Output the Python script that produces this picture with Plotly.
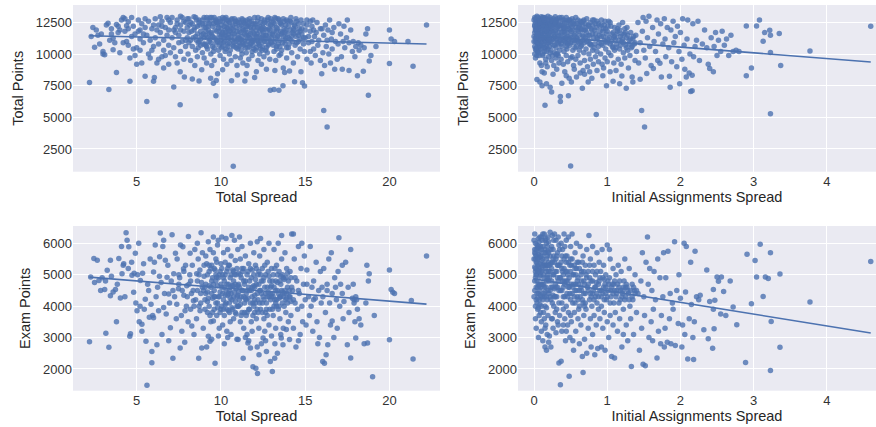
import plotly.graph_objects as go

# ---------------- data ----------------
# Panel 1: Total Spread (x) vs Total Points (y)
spread_total_pts = [
    (2.2,7750),(2.4,12100),(2.5,10550),(2.6,11900),(2.7,11500),(2.9,11600),(2.8,10800),(3.0,10000),(3.0,10200),(3.1,9950),(3.2,12300),(2.3,11400),
    (3.35,7200),(3.4,11100),(3.5,11600),(3.5,12000),(3.6,11250),(3.7,10900),(3.8,8550),(3.9,11700),(3.9,12200),(4.0,10100),(4.0,11900),(3.3,12450),(3.6,10350),(3.8,12350),
    (4.1,12700),(4.2,12900),(4.3,12800),(4.3,11800),(4.4,11000),(4.5,12550),(4.5,10700),(4.6,7850),(4.6,9700),(4.7,11400),(4.8,10400),(4.8,12200),(4.9,9900),(4.9,11600),(4.2,10900),(4.4,12250),(4.7,12900),(5.0,10500),
    (5.0,9200),(5.1,11800),(5.1,12700),(5.2,10300),(5.2,11200),(5.3,9300),(5.3,12400),(5.4,10900),(5.5,12100),(5.5,8250),(5.6,6250),(5.6,11500),(5.7,10000),(5.7,12600),(5.8,9700),(5.8,11100),(5.9,12000),(6.0,7850),(6.0,10600),(6.05,8150),(5.4,11600),(5.9,10300),
    (6.1,12800),(6.1,11300),(6.2,9300),(6.3,12300),(6.3,10800),(6.4,12950),(6.4,11700),(6.5,9800),(6.5,12600),(6.6,11100),(6.6,10300),(6.7,12100),(6.7,9900),(6.8,11500),(6.8,12900),(6.9,10700),(6.9,11900),(7.0,10100),(7.0,12500),(6.2,11900),(6.6,8900),(6.3,9600),(6.9,9200),
    (7.1,11300),(7.1,12900),(7.2,7400),(7.2,10500),(7.3,12100),(7.3,11700),(7.4,9300),(7.4,12700),(7.5,10900),(7.5,11500),(7.58,6000),(7.58,8600),(7.6,12300),(7.6,10200),(7.7,11000),(7.7,12900),(7.8,9600),(7.83,8200),(7.8,11800),(7.9,12500),(7.9,10600),(8.0,11300),(8.0,12100),(7.3,9800),(7.6,13000),
    (8.05,10000),(8.1,11700),(8.1,12800),(8.2,9500),(8.2,11100),(8.3,8030),(8.3,12400),(8.3,10600),(8.4,11900),(8.4,12950),(8.5,10300),(8.5,11400),(8.6,12200),(8.6,9800),(8.7,7870),(8.7,11000),(8.7,12700),(8.8,10700),(8.8,11800),(8.86,8760),(8.9,12400),(8.9,10100),(9.0,11300),(9.0,12900),(9.0,9700),(8.45,9100),(8.15,12300),(8.55,12700),(8.95,11600),(8.65,10900),
    (9.05,10800),(9.1,12100),(9.1,11500),(9.15,9300),(9.2,12700),(9.2,10400),(9.25,11900),(9.3,11000),(9.3,12400),(9.39,8090),(9.4,10000),(9.4,11700),(9.45,12900),(9.5,10600),(9.55,7690),(9.5,12200),(9.6,11300),(9.6,9500),(9.65,12600),(9.7,6700),(9.72,7920),(9.7,10900),(9.75,11800),(9.8,8440),(9.8,12300),(9.85,10300),(9.9,11500),(9.9,12800),(9.95,9900),(10.0,11100),(10.0,12000),(9.35,11200),(9.55,10200),(9.75,12500),(9.15,12900),(9.45,9100),
    (10.05,10500),(10.1,8760),(10.1,11700),(10.1,12600),(10.15,9600),(10.2,11000),(10.2,12200),(10.25,10200),(10.3,11500),(10.3,12900),(10.35,9200),(10.4,10800),(10.4,12000),(10.45,11300),(10.5,12500),(10.53,5230),(10.5,10000),(10.55,11800),(10.6,9500),(10.63,7900),(10.65,11100),(10.7,12300),(10.73,1130),(10.75,10600),(10.8,11600),(10.8,12800),(10.85,9800),(10.9,11000),(10.9,12100),(10.98,8350),(11.0,10400),(11.0,11500),(10.15,10900),(10.35,12700),(10.55,10300),(10.85,12600),(10.95,9100),(10.25,11900),(10.65,12000),(10.45,11600),
    (11.05,12700),(11.1,10900),(11.1,11800),(11.15,9700),(11.2,12300),(11.2,10300),(11.25,11400),(11.3,9300),(11.3,12000),(11.35,10700),(11.42,7870),(11.4,11100),(11.45,12600),(11.5,8440),(11.5,10100),(11.55,11700),(11.6,12200),(11.6,10500),(11.65,9600),(11.7,11300),(11.7,12800),(11.75,10800),(11.8,11900),(11.85,9900),(11.9,12400),(11.9,11000),(11.95,10400),(12.0,8150),(12.0,11600),(12.0,12900),(11.15,11200),(11.35,12500),(11.55,9100),(11.75,12100),(11.85,10200),(11.25,10000),(11.65,11500),(11.45,11900),(11.95,11300),(11.05,10600),
    (12.05,10300),(12.1,8600),(12.1,11900),(12.15,12600),(12.2,10800),(12.2,9500),(12.25,11400),(12.3,12200),(12.3,10000),(12.35,11100),(12.4,12800),(12.4,9200),(12.45,10600),(12.5,11700),(12.5,12400),(12.55,9800),(12.6,11000),(12.6,12000),(12.65,10300),(12.7,11500),(12.7,8800),(12.75,12700),(12.8,10700),(12.85,11200),(12.9,9600),(12.93,7150),(12.95,12300),(13.0,10900),(12.15,11100),(12.45,11900),(12.75,10100),(12.35,10400),(12.85,12000),(12.55,11300),
    (13.05,5280),(13.05,11600),(13.1,12500),(13.15,7200),(13.15,10200),(13.2,8700),(13.2,11000),(13.25,9500),(13.3,12100),(13.3,10600),(13.35,11400),(13.44,7150),(13.4,12800),(13.45,9900),(13.5,11100),(13.55,12400),(13.6,10300),(13.68,7500),(13.65,11700),(13.7,8900),(13.75,12000),(13.78,8540),(13.8,10800),(13.85,11300),(13.9,9700),(13.95,12600),(14.0,10500),(13.25,12800),(13.55,10000),(13.85,11900),
    (14.07,8670),(14.1,11200),(14.15,12900),(14.2,10100),(14.25,11700),(14.3,9300),(14.37,7820),(14.35,12300),(14.4,10700),(14.45,11400),(14.5,12600),(14.55,9800),(14.6,11000),(14.65,12000),(14.7,10400),(14.75,8600),(14.84,7740),(14.8,11600),(14.9,12400),(14.96,7470),(14.95,10200),(15.0,11300),(14.3,12000),(14.7,11800),
    (15.1,12700),(15.1,9600),(15.2,10900),(15.3,11800),(15.35,9300),(15.4,12200),(15.5,10400),(15.55,11400),(15.6,9900),(15.7,12500),(15.75,10700),(15.8,11100),(15.9,9500),(15.98,8440),(15.9,12000),(15.3,10200),(15.65,11700),(15.45,12700),
    (16.05,10100),(16.1,5550),(16.1,11500),(16.15,9100),(16.2,12300),(16.25,10600),(16.3,4230),(16.35,11900),(16.4,10000),(16.45,12700),(16.5,9300),(16.55,11200),(16.6,10400),(16.7,12100),(16.75,8800),(16.8,11000),(16.9,9600),(17.0,12400),(16.95,10800),
    (17.1,11600),(17.15,9800),(17.2,8800),(17.3,12200),(17.35,10500),(17.45,11300),(17.5,12700),(17.6,8700),(17.6,10900),(17.7,11900),(17.8,10200),(17.85,11000),(17.95,9800),(18.0,10600),(17.25,11000),
    (18.1,8300),(18.15,10900),(18.2,10300),(18.3,10700),(18.45,8650),(18.5,10500),(18.6,11600),(18.7,12000),(18.75,6750),(18.8,9450),(18.9,9900),
    (19.2,10600),(20.0,9250),(20.0,11900),(20.1,11200),(20.3,11000),(21.1,11000),(21.4,9050),(22.2,12300),
]
# extra points of the crowded core of panel 1
spread_total_core = [
    (7.6,11900),(7.8,12600),(7.9,11100),(8.0,12800),(8.1,10900),(8.2,12500),(8.25,11800),(8.35,11300),(8.45,12100),(8.5,12900),(8.6,11600),(8.65,10500),(8.75,12300),(8.8,11200),(8.9,12700),(8.95,10800),(9.05,12400),(9.1,11800),(9.15,10600),(9.25,12200),(9.3,11600),(9.35,12900),(9.4,10900),(9.5,11400),(9.55,12400),(9.6,10500),(9.65,11900),(9.7,12700),(9.8,11000),(9.85,12100),(9.9,10700),(9.95,12600),(10.0,11400),(10.05,12300),(10.1,10600),(10.15,11300),(10.2,12800),(10.25,11700),(10.3,10400),(10.35,12100),(10.4,11200),(10.45,12600),(10.5,10900),(10.55,12200),(10.6,11400),(10.65,12800),(10.7,10700),(10.75,11900),(10.8,11200),(10.85,12400),(10.9,10500),(10.95,11800),(11.0,12500),(11.05,11300),(11.1,12200),(11.15,10700),(11.2,11700),(11.25,12800),(11.3,10900),(11.35,11900),(11.4,12400),(11.45,10500),(11.5,11500),(11.55,12700),(11.6,11000),(11.65,12300),(11.7,10600),(11.75,11600),(11.8,12600),(11.85,11100),(11.9,10700),(11.95,12100),(12.0,11100),(12.05,12400),(12.1,10500),(12.15,11600),(12.2,12900),(12.25,10900),(12.3,11800),(12.35,12500),(12.4,11300),(12.45,10300),(12.5,12100),(12.55,11000),(12.6,12700),(12.65,11500),(12.7,10500),(12.75,11900),(12.8,12400),(12.85,10800),(12.9,11600),(12.95,12800),(13.0,11300),(13.05,12200),(13.1,10700),(13.15,11800),(13.2,12400),(13.25,11200),(13.3,10400),(13.35,12000),(13.4,11500),(13.45,12700),(13.5,10600),(13.55,11800),(13.6,12300),(13.65,10900),(13.7,11400),(13.75,12600),(13.8,11100),(13.85,12300),(13.9,10500),(13.95,11600),(14.0,12200),(14.05,10800),(14.1,11900),(14.2,12500),(14.25,11000),(14.3,11600),(14.4,12200),(14.5,10900),(14.55,11700),(14.6,12400),(14.7,11200),(14.8,12000),(14.9,10800),(15.0,11900),(15.1,12300),(15.2,11400),(15.3,12600),(15.4,11000),(15.5,11900),(6.5,12200),(6.9,12700),(7.2,11900),(7.4,12400),(5.5,12800),(6.0,12300),(16.0,12000),(16.3,11100),(16.6,11700),(5.2,11900),(4.5,12000),
    (8.55,11100),(8.7,12500),(8.85,11500),(9.0,12100),(9.1,10700),(9.2,11300),(9.35,12600),(9.45,11600),(9.6,12900),(9.7,11200),(9.8,12500),(9.9,11800),(10.05,11600),(10.1,12900),(10.2,11500),(10.3,12400),(10.4,10600),(10.5,11800),(10.6,12700),(10.7,11600),(10.8,10900),(10.9,12600),(11.0,11200),(11.1,12500),(11.2,11100),(11.3,12700),(11.4,11600),(11.5,12200),(11.6,11300),(11.7,12500),(11.8,10900),(11.9,11700),(12.0,12300),(12.1,11400),(12.2,12100),(12.3,10700),(12.4,12000),(12.5,11500),(12.6,12500),(12.7,11200),(12.8,12900),(12.9,11900),(13.0,12600),(13.1,11500),(13.2,12900),(13.3,11800),(13.4,10800),(13.5,12500),(13.6,11600),(13.7,12800),(13.8,11700),(13.9,12700),(14.0,11300),(14.1,12600),(14.2,11400),(14.35,11900),(14.45,12800),(14.6,11500),(14.75,12700),(14.9,11300),(9.95,10900),(11.45,10800),(12.95,11000),
]

# Panel 2: Initial Assignments Spread (x) vs Total Points (y)
init_total_pts = [
    (0.01,12900),(0.02,12500),(0.03,12100),(0.01,11700),(0.02,11300),(0.04,10900),(0.03,10500),(0.05,10200),(0.01,10000),(0.06,12700),(0.07,12300),(0.05,11900),(0.08,11500),(0.06,11100),(0.09,10700),(0.07,10300),(0.04,13000),(0.08,12800),(0.09,12000),(0.1,11600),(0.02,11000),(0.03,12700),(0.05,12400),(0.06,10600),(0.04,11500),(0.08,9300),(0.04,8000),(0.08,7800),(0.11,7500),(0.1,9100),(0.02,9700),(0.07,9900),(0.09,12550),(0.01,12200),(0.03,11850),(0.06,11750),(0.1,10400),(0.0,11400),(0.1,12950),(0.05,10800),
    (0.11,12100),(0.12,12900),(0.12,11400),(0.13,10800),(0.13,12600),(0.14,10200),(0.14,11900),(0.15,5950),(0.15,12300),(0.15,11100),(0.16,9600),(0.16,12800),(0.17,7660),(0.17,10600),(0.17,11700),(0.18,12400),(0.18,9000),(0.18,11200),(0.19,10400),(0.19,12000),(0.2,12700),(0.2,10900),(0.2,11500),(0.11,8600),(0.14,8500),(0.16,9300),(0.12,10000),(0.19,13000),(0.13,11600),(0.17,12200),(0.11,11000),(0.15,10500),(0.18,11800),(0.2,9800),(0.14,12500),
    (0.21,12300),(0.22,7390),(0.22,11000),(0.22,12900),(0.23,10300),(0.23,11800),(0.24,7000),(0.24,12500),(0.24,9500),(0.25,11300),(0.25,12100),(0.26,10700),(0.26,12800),(0.27,9100),(0.27,11600),(0.28,12400),(0.28,10100),(0.29,11100),(0.29,12950),(0.3,9700),(0.3,11900),(0.3,10500),(0.31,12600),(0.31,8800),(0.32,11400),(0.32,10000),(0.33,12200),(0.33,10800),(0.34,9300),(0.34,11700),(0.35,12900),(0.35,10300),(0.26,8400),(0.21,10600),(0.28,11400),(0.33,9900),(0.25,9900),(0.3,12300),(0.23,12700),(0.32,12800),
    (0.36,6650),(0.36,6250),(0.36,11100),(0.37,12300),(0.37,9600),(0.38,7700),(0.38,10600),(0.39,12700),(0.39,11500),(0.4,9200),(0.4,12000),(0.41,10200),(0.41,11800),(0.42,12500),(0.42,8600),(0.43,10900),(0.43,11300),(0.44,12900),(0.44,9900),(0.45,11700),(0.45,10400),(0.46,12200),(0.46,9400),(0.47,6700),(0.47,11000),(0.48,12600),(0.48,8100),(0.49,10700),(0.49,11900),(0.5,1150),(0.5,12300),(0.5,9700),(0.38,12900),(0.42,11000),(0.46,10800),(0.44,8300),
    (0.51,7800),(0.51,11300),(0.52,12800),(0.53,10300),(0.53,11900),(0.54,9100),(0.55,12400),(0.55,10900),(0.56,11600),(0.57,9600),(0.57,12100),(0.58,8200),(0.58,10600),(0.59,11200),(0.6,12700),(0.6,9900),(0.61,11800),(0.62,10300),(0.62,12300),(0.63,9300),(0.64,11000),(0.64,12000),(0.65,10700),(0.66,7310),(0.66,11500),(0.67,12600),(0.67,8700),(0.68,10100),(0.68,11900),(0.69,9500),(0.7,11300),(0.7,12400),(0.55,8800),(0.63,8500),(0.69,8400),(0.52,9800),
    (0.71,10400),(0.72,11700),(0.72,12800),(0.73,9000),(0.74,7800),(0.74,11100),(0.75,12200),(0.75,10000),(0.76,11500),(0.77,9600),(0.77,12500),(0.78,10700),(0.79,8100),(0.79,11900),(0.8,12300),(0.8,10300),(0.81,9200),(0.81,11300),(0.82,12700),(0.83,10800),(0.85,5230),(0.84,11600),(0.84,9800),(0.85,12100),(0.86,10200),(0.86,8700),(0.87,11200),(0.88,12400),(0.88,9400),(0.89,10900),(0.9,11800),(0.76,8600),
    (0.91,10000),(0.92,12300),(0.92,11400),(0.93,9200),(0.94,10700),(0.95,12000),(0.95,8900),(0.96,11100),(0.97,9700),(0.97,12600),(0.98,10400),(0.99,7500),(0.99,11600),(1.0,9400),(1.0,10900),(1.01,12200),(1.02,10100),(1.03,11300),(1.04,8600),(1.04,12500),(1.05,9900),(1.06,11000),(1.07,10600),(1.08,7850),(1.08,11700),(1.09,9300),(1.1,10300),(1.1,12100),(0.94,8300),
    (1.11,11200),(1.12,8700),(1.13,10800),(1.14,11800),(1.15,9600),(1.16,12300),(1.17,7660),(1.17,10400),(1.18,11400),(1.19,9200),(1.2,8280),(1.2,11000),(1.21,12500),(1.22,10100),(1.23,11600),(1.24,9700),(1.25,10700),(1.26,7310),(1.26,11300),(1.27,12100),(1.28,10300),(1.29,8900),(1.3,11100),(1.31,9900),(1.32,11700),(1.33,10500),(1.34,8200),(1.35,7800),(1.35,11200),(1.37,10800),(1.38,9500),(1.39,11500),(1.4,10200),
    (1.42,12500),(1.43,9300),(1.45,8010),(1.45,10900),(1.47,5550),(1.48,11800),(1.49,12900),(1.5,10300),(1.51,4230),(1.52,9700),(1.53,12600),(1.54,8470),(1.55,11300),(1.57,13000),(1.58,10600),(1.6,9100),(1.62,12100),(1.63,8870),(1.64,11000),(1.66,10200),(1.68,12700),(1.69,9500),(1.7,11600),(1.72,9270),(1.73,12400),(1.74,8200),(1.76,10800),(1.78,12800),(1.79,11200),
    (1.8,9800),(1.82,12100),(1.84,10500),(1.85,8250),(1.86,7390),(1.87,11900),(1.88,9400),(1.9,12600),(1.91,10900),(1.93,11400),(1.95,9000),(1.96,12200),(1.98,10200),(1.99,7660),(2.0,11700),(2.02,9600),(2.03,12800),(2.05,10700),(2.06,8800),(2.08,8200),(2.09,11200),(2.1,12700),(2.12,8500),(2.13,10000),(2.14,7040),(2.16,7100),(2.16,8330),(2.17,12400),(2.18,9800),(2.2,10600),(2.22,11100),(2.24,12600),(2.26,9500),
    (2.3,10800),(2.33,11900),(2.36,10500),(2.38,9200),(2.4,8870),(2.42,11300),(2.45,8600),(2.46,10600),(2.48,11700),(2.5,9900),(2.52,11100),(2.55,10200),(2.57,11800),(2.6,10700),(2.63,11200),(2.66,9900),(2.69,11500),(2.72,10200),(2.76,10300),(2.8,10200),
    (2.9,8300),(2.9,12230),(2.97,8900),(3.04,12230),(3.08,12700),(3.13,11020),(3.15,11700),(3.22,11880),(3.23,11500),(3.23,10130),(3.23,5280),(3.35,11640),(3.37,9100),(3.77,10250),(4.6,12200),
]
init_total_core = [
    (0.0,12700),(0.01,12300),(0.02,11900),(0.0,11000),(0.01,10600),(0.03,10300),(0.02,12800),(0.04,12200),(0.03,11200),(0.05,12900),(0.04,11700),(0.06,12000),(0.05,11300),(0.07,12600),(0.06,10900),(0.08,12200),(0.07,11400),(0.09,11100),(0.08,10600),(0.1,12400),(0.09,11700),(0.11,12600),(0.1,11200),(0.12,12200),(0.11,11700),(0.13,12900),(0.12,10700),(0.14,11300),(0.13,12300),(0.15,11800),(0.14,10500),(0.16,12500),(0.15,12900),(0.17,11300),(0.16,11000),(0.18,12700),(0.17,10200),(0.19,11500),(0.18,12100),(0.2,12300),(0.19,10900),(0.21,11700),(0.22,12400),(0.21,11300),(0.23,11000),(0.24,12000),(0.25,12600),(0.26,11200),(0.27,12300),(0.28,10700),(0.29,11800),(0.3,12700),(0.31,11200),(0.32,12100),(0.33,11500),(0.34,12600),(0.35,11000),(0.36,12000),(0.37,10800),(0.38,11700),(0.39,12300),(0.4,11100),(0.41,12700),(0.42,11700),(0.43,12100),(0.44,10600),(0.45,12500),(0.46,11400),(0.47,12000),(0.48,11200),(0.49,12700),(0.5,10900),(0.51,11800),(0.52,12200),(0.53,11100),(0.54,12600),(0.55,11500),(0.56,10500),(0.57,12900),(0.58,11300),(0.59,12400),(0.6,11000),(0.61,12100),(0.62,11500),(0.63,12600),(0.64,10600),(0.65,11900),(0.66,12300),(0.67,11100),(0.68,12700),(0.69,10900),(0.7,11900),(0.72,11000),(0.74,12300),(0.76,10800),(0.78,12000),(0.8,11600),(0.82,10500),(0.84,12400),(0.86,11300),(0.88,10600),(0.9,12200),(0.92,10800),(0.94,11800),(0.96,12300),(0.98,11000),(1.0,11800),(1.02,12600),(1.04,10800),(1.06,11600),(1.08,10500),(1.1,11400),(1.12,10500),(1.14,12000),(1.16,11100),(1.18,10700),(1.2,11600),(1.22,10900),(1.24,12000),(1.26,10500),(1.28,11500),(1.3,10800),(1.32,11200),(1.34,10600),(1.36,11400),(1.38,10900),(0.02,10400),(0.04,9900),(0.06,10100),(0.12,9900),(0.22,10100),(0.3,10000),
    (0.02,12000),(0.05,11600),(0.08,12500),(0.11,11300),(0.14,12700),(0.17,11900),(0.2,11100),(0.23,12200),(0.26,11700),(0.29,12500),(0.32,10900),(0.35,12300),(0.38,11300),(0.41,12100),(0.44,11300),(0.47,12700),(0.5,11500),(0.53,12400),(0.56,11100),(0.59,11900),(0.62,10900),(0.65,12500),(0.68,11400),(0.71,12100),(0.74,11500),(0.77,10800),(0.8,12700),(0.83,11900),(0.86,12600),(0.89,11500),(0.92,12700),(0.95,11400),(0.98,12000),(1.01,11200),(1.05,12200),(1.09,11300),(1.13,11600),(1.17,11900),(1.21,11200),(1.25,11700),
]

# Panel 3: Total Spread (x) vs Exam Points (y)
spread_exam_pts = [
    (2.2,2870),(2.27,4925),(2.46,5520),(2.66,5460),(2.76,4820),(2.86,4500),(2.5,4750),(2.95,4900),
    (3.1,4530),(3.15,4800),(3.17,3140),(3.25,5140),(3.35,2690),(3.44,5460),(3.44,4330),(3.6,4450),(3.74,4530),(3.8,3500),(3.94,5520),(3.5,4950),(3.85,4700),
    (4.03,4260),(4.13,5030),(4.23,5350),(4.37,6340),(4.43,6100),(4.53,5890),(4.59,3040),(4.63,3120),(4.72,4980),(4.82,4440),(4.92,5680),(4.2,5300),(4.3,4300),(4.5,5200),(4.7,5400),(4.1,5900),(4.85,5050),(4.95,4100),
    (5.02,3850),(5.12,6000),(5.22,4820),(5.31,3420),(5.31,3200),(5.41,5350),(5.51,4220),(5.61,1480),(5.55,2880),(5.71,4500),(5.85,4060),(5.9,2200),(5.9,2560),(5.05,5000),(5.2,4000),(5.45,3900),(5.65,4700),(5.8,5500),(5.95,3700),(5.35,5050),(5.75,3650),(5.15,3500),
    (6.0,3630),(6.0,5090),(6.1,5950),(6.2,2770),(6.24,4600),(6.36,5570),(6.4,6330),(6.5,3100),(6.6,3960),(6.7,5460),(6.8,4920),(6.9,4390),(6.15,4300),(6.3,3850),(6.45,4750),(6.55,5900),(6.65,4400),(6.75,3750),(6.85,5300),(6.95,4100),(6.05,5400),(6.35,4950),(6.6,6100),(6.9,2900),
    (7.0,3310),(7.1,6270),(7.15,2340),(7.2,5030),(7.3,5680),(7.38,4060),(7.48,4550),(7.58,2670),(7.68,3200),(7.74,5890),(7.78,5190),(7.87,3850),(7.97,4650),(7.05,4800),(7.25,4300),(7.4,5500),(7.55,4900),(7.65,3700),(7.8,4350),(7.9,5300),(7.15,4500),(7.35,3600),(7.6,5950),(7.85,2850),(7.95,4000),(7.5,5000),(7.7,4500),
    (8.07,6220),(8.17,5680),(8.27,3370),(8.37,4170),(8.56,5030),(8.68,2340),(8.76,3850),(8.82,6340),(8.86,2670),(8.96,4500),(8.1,4700),(8.15,5000),(8.2,3900),(8.3,5300),(8.35,4500),(8.45,5800),(8.5,4200),(8.55,3600),(8.6,4800),(8.65,5500),(8.7,4000),(8.75,5150),(8.8,4400),(8.9,5700),(8.95,3300),(8.05,3500),(8.4,3100),(8.6,6000),(8.85,4750),(8.25,4400),
    (9.15,5350),(9.25,3040),(9.35,2880),(9.55,3530),(9.65,2180),(9.74,4920),(9.84,6100),(9.05,4200),(9.1,4700),(9.1,5600),(9.2,3800),(9.2,4450),(9.3,5100),(9.3,4000),(9.35,5800),(9.4,4600),(9.4,3500),(9.45,5300),(9.5,4250),(9.5,4900),(9.55,5700),(9.6,3900),(9.6,4500),(9.65,5150),(9.7,4100),(9.7,5500),(9.75,3700),(9.8,4650),(9.8,5950),(9.85,4300),(9.9,5000),(9.9,3300),(9.95,4450),(10.0,5350),(10.0,3900),(9.15,2700),(9.45,2950),(9.85,3050),(9.25,6050),(9.55,6200),(9.0,4950),
    (10.05,4600),(10.05,6200),(10.1,3400),(10.1,5000),(10.15,4200),(10.15,5700),(10.2,3700),(10.2,4800),(10.25,5400),(10.25,4050),(10.3,4500),(10.3,6150),(10.35,3200),(10.35,5100),(10.4,4350),(10.4,5800),(10.45,3850),(10.45,4700),(10.5,5300),(10.5,4100),(10.55,3500),(10.55,4900),(10.6,4400),(10.6,5600),(10.65,3950),(10.65,6250),(10.7,4650),(10.7,5150),(10.75,3600),(10.75,4300),(10.8,5000),(10.8,6100),(10.85,4150),(10.85,5450),(10.9,3750),(10.9,4550),(10.95,5200),(10.95,2950),(11.0,4350),(11.0,5800),(10.4,3000),(10.6,3100),(10.2,2800),
    (11.02,2940),(11.05,4000),(11.05,5050),(11.1,4600),(11.1,6200),(11.15,3500),(11.15,5500),(11.2,4300),(11.2,4900),(11.25,3800),(11.25,5900),(11.3,4500),(11.32,2340),(11.35,5200),(11.35,3300),(11.4,4100),(11.4,4700),(11.45,5600),(11.5,3700),(11.5,4400),(11.55,5000),(11.55,3100),(11.6,2830),(11.6,4250),(11.65,5350),(11.7,3900),(11.7,4800),(11.75,2670),(11.75,6000),(11.8,4500),(11.8,3500),(11.85,5150),(11.9,2070),(11.9,4100),(11.95,4650),(11.95,5700),(12.0,3800),(12.0,4350),(11.45,3000),(11.85,3200),(11.65,2900),
    (12.07,2020),(12.17,1860),(12.26,2450),(12.5,2990),(12.7,2560),(12.93,2240),(12.05,5300),(12.1,4700),(12.1,3600),(12.15,6050),(12.2,4200),(12.2,5000),(12.25,3300),(12.3,4500),(12.3,5600),(12.35,3900),(12.4,4800),(12.4,2800),(12.45,5200),(12.5,4300),(12.55,3600),(12.55,5800),(12.6,4600),(12.6,3200),(12.65,5000),(12.7,4100),(12.75,5400),(12.75,3700),(12.8,4450),(12.85,6000),(12.85,3400),(12.9,4800),(12.95,4200),(13.0,5200),(13.0,3050),(12.35,6150),(12.65,2900),(12.15,2700),
    (13.05,1920),(13.19,2340),(13.35,2500),(13.58,2990),(13.68,2770),(13.88,3260),(13.05,4400),(13.1,5000),(13.1,3700),(13.15,5800),(13.2,4200),(13.25,4800),(13.25,3300),(13.3,5300),(13.35,4500),(13.4,3900),(13.4,6000),(13.45,5100),(13.5,4300),(13.5,3600),(13.55,4700),(13.6,5500),(13.65,4100),(13.7,3300),(13.7,4900),(13.75,4400),(13.8,5700),(13.85,3800),(13.9,4250),(13.9,5200),(13.95,4600),(14.0,3500),(13.2,2800),(13.55,3100),(13.6,6250),(13.3,4000),
    (14.07,2940),(14.05,4300),(14.1,5100),(14.15,3700),(14.2,6300),(14.25,4500),(14.3,3300),(14.35,5500),(14.4,4100),(14.45,2700),(14.5,4800),(14.55,3900),(14.6,5900),(14.65,4400),(14.7,3100),(14.75,5200),(14.8,4000),(14.85,3500),(14.9,4700),(14.95,5600),(15.0,4200),(14.3,6300),(14.6,2900),(14.15,4900),(14.8,6000),
    (15.05,3400),(15.1,5150),(15.2,4300),(15.25,3700),(15.3,5900),(15.35,4000),(15.45,3200),(15.5,4800),(15.6,4250),(15.65,5400),(15.7,3500),(15.8,4500),(15.85,3000),(15.9,5100),(15.95,4100),(15.4,4600),(15.75,2800),
    (16.04,2240),(16.14,2180),(16.24,2450),(16.34,2770),(16.6,3530),(16.05,4300),(16.1,5200),(16.2,3800),(16.3,4700),(16.4,5500),(16.45,4100),(16.5,3400),(16.55,5700),(16.6,4400),(16.7,3000),(16.75,4900),(16.85,4200),(16.9,3300),(16.95,5100),(17.0,6180),
    (17.05,4000),(17.1,4700),(17.2,5300),(17.25,3600),(17.3,4150),(17.4,5400),(17.5,2770),(17.55,4600),(17.6,3800),(17.7,2350),(17.7,5800),(17.8,4250),(17.9,4100),(17.95,3500),(17.85,4700),
    (18.0,2990),(18.05,4200),(18.1,3900),(18.2,3600),(18.3,3400),(18.5,2800),(18.6,4100),(18.66,5300),(18.7,2830),(18.75,4800),(18.8,5030),(19.0,1750),(19.1,3700),
    (20.0,2930),(20.0,5150),(20.1,4530),(20.2,4440),(20.3,4400),(21.3,4180),(21.4,2320),(22.2,5600),
]
spread_exam_core = [
    (8.6,4500),(8.7,5000),(8.8,4100),(8.9,4600),(9.0,5300),(9.05,3900),(9.1,4400),(9.2,5000),(9.25,4250),(9.3,4650),(9.35,3700),(9.4,5200),(9.45,4400),(9.5,3800),(9.55,4700),(9.6,5200),(9.65,4300),(9.7,4800),(9.75,5400),(9.8,4100),(9.85,4900),(9.9,4300),(9.95,3800),(10.0,4700),(10.05,5200),(10.1,4400),(10.15,3900),(10.2,4600),(10.25,5000),(10.3,4100),(10.35,4700),(10.4,5200),(10.45,4400),(10.5,3800),(10.55,4600),(10.6,5000),(10.65,4200),(10.7,3900),(10.75,4800),(10.8,4450),(10.85,3800),(10.9,5000),(10.95,4300),(11.0,4000),(11.05,4700),(11.1,4200),(11.15,5000),(11.2,3700),(11.25,4500),(11.3,5100),(11.35,4300),(11.4,3800),(11.45,4800),(11.5,4200),(11.55,4500),(11.6,5100),(11.65,3900),(11.7,4500),(11.75,4100),(11.8,4900),(11.85,4300),(11.9,3700),(11.95,5000),(12.0,4600),(12.05,4100),(12.1,5200),(12.15,4400),(12.2,3800),(12.25,4700),(12.3,4100),(12.35,5000),(12.4,4400),(12.45,3800),(12.5,4800),(12.55,4200),(12.6,5300),(12.65,4400),(12.7,3900),(12.75,4600),(12.8,5100),(12.85,4300),(12.9,3900),(12.95,4600),(13.0,4300),(13.05,4800),(13.1,4300),(13.15,4000),(13.2,5200),(13.25,4500),(13.3,4200),(13.35,5000),(13.4,4400),(13.45,4000),(13.5,4800),(13.55,4300),(13.6,4500),(13.65,5000),(13.7,4300),(13.75,4000),(13.8,4500),(13.85,4900),(13.9,4400),(13.95,4100),(14.0,4800),(14.1,4300),(14.2,4600),(14.3,4200),(14.4,4900),(7.5,4700),(7.8,5100),(8.0,4300),(8.2,4800),(8.4,4000),(15.5,4200),(16.0,4600),(16.3,4500),(17.2,4400),(17.9,4200),(18.0,4300),(16.8,4600),(14.6,4500),(15.1,4700),
    (9.05,4600),(9.2,4150),(9.3,5300),(9.45,4800),(9.6,4300),(9.7,5000),(9.8,3950),(9.95,5100),(10.05,4000),(10.15,4900),(10.25,4350),(10.35,3900),(10.45,5300),(10.55,4250),(10.65,4650),(10.75,5100),(10.85,4700),(10.95,4000),(11.05,4450),(11.15,4050),(11.25,5200),(11.35,4800),(11.45,4250),(11.55,3800),(11.65,4600),(11.75,5200),(11.85,4600),(11.95,4000),(12.05,4850),(12.15,3900),(12.25,5100),(12.35,4500),(12.45,4100),(12.55,4900),(12.65,3800),(12.75,4300),(12.85,4950),(12.95,4400),(13.05,3900),(13.15,4600),(13.25,4100),(13.35,4750),(13.45,4250),(13.55,4950),(13.65,4450),(13.75,4850),(13.85,4200),(13.95,5050),(14.05,4500),(14.15,4150),(11.0,4650),(10.5,4500),(12.0,4200),(13.0,4650),
]

# Panel 4: Initial Assignments Spread (x) vs Exam Points (y)
init_exam_pts = [
    (0.01,6300),(0.02,6000),(0.01,5700),(0.03,5400),(0.02,5100),(0.04,4800),(0.01,4500),(0.03,4200),(0.05,3900),(0.02,3600),(0.06,6150),(0.05,5850),(0.07,5550),(0.06,5250),(0.08,4950),(0.07,4650),(0.09,4350),(0.08,4050),(0.04,5950),(0.03,5600),(0.05,5300),(0.09,5000),(0.1,4700),(0.06,4400),(0.02,4900),(0.07,6050),(0.08,5750),(0.1,5450),(0.04,5150),(0.09,3800),(0.1,6200),(0.03,4600),(0.06,3950),(0.01,5250),(0.08,5350),(0.05,4250),(0.1,3500),(0.07,3700),(0.02,5500),(0.09,5900),(0.04,4400),(0.1,4000),(0.06,5650),(0.03,5000),(0.08,4500),
    (0.11,6100),(0.11,4300),(0.12,5500),(0.12,2900),(0.13,5000),(0.13,3800),(0.14,6300),(0.14,4600),(0.15,2700),(0.15,5800),(0.15,4000),(0.16,5200),(0.16,3400),(0.17,6000),(0.17,4800),(0.17,2600),(0.18,5600),(0.18,4200),(0.18,3100),(0.19,6200),(0.19,5000),(0.19,3700),(0.2,5400),(0.2,4400),(0.2,2850),(0.12,6300),(0.13,4700),(0.14,5350),(0.16,6150),(0.18,4900),(0.11,5150),(0.15,4450),(0.19,5750),(0.17,3950),(0.14,3600),(0.2,6050),
    (0.21,4900),(0.21,3050),(0.22,6350),(0.22,5600),(0.23,4200),(0.23,2700),(0.24,5200),(0.24,3600),(0.25,6250),(0.25,4600),(0.26,5800),(0.26,3300),(0.27,5000),(0.27,4000),(0.28,6300),(0.28,5400),(0.29,3800),(0.29,4700),(0.3,6100),(0.3,3150),(0.31,5100),(0.31,4300),(0.32,5700),(0.32,3500),(0.33,4800),(0.33,6200),(0.34,2190),(0.34,4100),(0.35,5300),(0.35,3700),(0.22,4500),(0.24,5900),(0.26,4350),(0.28,4550),(0.3,5500),(0.32,4600),(0.34,5950),(0.23,5350),(0.27,6100),(0.31,3900),(0.33,3400),
    (0.36,1500),(0.37,2250),(0.36,4500),(0.37,6000),(0.38,5200),(0.38,3200),(0.39,4800),(0.39,5800),(0.4,3900),(0.4,4300),(0.41,6300),(0.41,5500),(0.42,3600),(0.42,4700),(0.43,5100),(0.43,2900),(0.44,6100),(0.44,4000),(0.45,5600),(0.45,4400),(0.46,3400),(0.46,5000),(0.47,6200),(0.47,3800),(0.48,1770),(0.48,4600),(0.49,5300),(0.49,3000),(0.5,5900),(0.5,4200),(0.38,4100),(0.42,5900),(0.46,4800),(0.44,3200),(0.4,5000),
    (0.51,4700),(0.51,3500),(0.52,5500),(0.52,6300),(0.53,4100),(0.54,5000),(0.54,2600),(0.55,3800),(0.56,5700),(0.56,4500),(0.57,3200),(0.58,5200),(0.58,6000),(0.59,4300),(0.6,3600),(0.6,4900),(0.61,5400),(0.62,2800),(0.62,4000),(0.63,5900),(0.64,4600),(0.64,3400),(0.65,5100),(0.66,2400),(0.66,4200),(0.67,1890),(0.67,5600),(0.68,3700),(0.68,4800),(0.69,2950),(0.7,5300),(0.7,4400),(0.55,4300),(0.61,3900),(0.69,4000),(0.53,2900),(0.57,4700),
    (0.71,3900),(0.72,5800),(0.72,2500),(0.73,4600),(0.74,3300),(0.74,5100),(0.75,6250),(0.76,4200),(0.77,3600),(0.77,5500),(0.78,2700),(0.78,4800),(0.79,4000),(0.8,5900),(0.8,3100),(0.81,4500),(0.82,5300),(0.82,3700),(0.83,2450),(0.84,4300),(0.84,5000),(0.85,3400),(0.86,5700),(0.86,4100),(0.87,2650),(0.88,4700),(0.88,3900),(0.89,5400),(0.9,3600),(0.9,4500),(0.76,4900),(0.8,4400),(0.85,4750),
    (0.91,5100),(0.92,2700),(0.92,4000),(0.93,5800),(0.94,4400),(0.94,3300),(0.95,5300),(0.96,3800),(0.97,4700),(0.97,2600),(0.98,5000),(0.99,4200),(1.0,3500),(1.0,5950),(1.01,4500),(1.02,3000),(1.03,4900),(1.04,5500),(1.04,3700),(1.05,4300),(1.06,2400),(1.07,4700),(1.08,5200),(1.08,3400),(1.09,4100),(1.1,2350),(1.1,4500),(1.03,5800),(0.96,4850),
    (1.11,3800),(1.12,5000),(1.13,4400),(1.14,3200),(1.15,5300),(1.16,4600),(1.17,3600),(1.18,4200),(1.19,5100),(1.2,2700),(1.21,4500),(1.22,3900),(1.23,4800),(1.24,5500),(1.25,4300),(1.26,3400),(1.27,4600),(1.28,2900),(1.29,4400),(1.3,5200),(1.31,4000),(1.32,3600),(1.33,2080),(1.34,4700),(1.35,4200),(1.36,3100),(1.37,4500),(1.38,5000),(1.4,3800),(1.42,4400),(1.44,2600),(1.22,3100),
    (1.46,4800),(1.47,3300),(1.48,5700),(1.49,2150),(1.5,4300),(1.51,3700),(1.52,2100),(1.53,5400),(1.55,6200),(1.56,4700),(1.57,3000),(1.58,5200),(1.6,3500),(1.61,4500),(1.62,2900),(1.63,3900),(1.64,5100),(1.66,4200),(1.68,2350),(1.69,5500),(1.7,3200),(1.72,4900),(1.73,2800),(1.74,3700),(1.76,4300),(1.77,5700),(1.78,2700),(1.79,3300),(1.8,4900),
    (1.82,2850),(1.83,5750),(1.85,3600),(1.86,4400),(1.87,2800),(1.89,4100),(1.9,3900),(1.92,6050),(1.93,2750),(1.95,4500),(1.97,3450),(1.98,5000),(2.0,4250),(2.02,2700),(2.03,3400),(2.05,6000),(2.06,3100),(2.07,4450),(2.08,5900),(2.1,2320),(2.12,3600),(2.14,5400),(2.15,4050),(2.17,3000),(2.18,2300),(2.19,3500),(2.2,5750),(2.22,4300),(2.25,4200),(2.27,4350),
    (2.36,5150),(2.38,2960),(2.4,4150),(2.44,2660),(2.45,4530),(2.46,3280),(2.47,4190),(2.5,4930),(2.52,4790),(2.56,4930),(2.59,4470),(2.62,3700),(2.68,4800),(2.72,3970),(2.77,3410),(2.45,3900),(2.55,3750),(2.32,3250),
    (2.89,2210),(2.91,5650),(2.97,4080),(3.02,5450),(3.04,4930),(3.09,5970),(3.13,4310),(3.16,4930),(3.2,4880),(3.23,5700),(3.23,1950),(3.24,3510),(3.36,5020),(3.36,2690),(3.77,4130),(4.6,5420),
]
init_exam_core = [
    (0.0,6100),(0.01,5800),(0.0,5500),(0.02,5200),(0.01,4800),(0.0,4300),(0.02,4000),(0.03,5800),(0.04,5400),(0.03,5000),(0.05,4600),(0.04,4100),(0.06,5900),(0.05,5500),(0.07,5100),(0.06,4700),(0.07,4200),(0.08,6200),(0.09,5600),(0.08,5200),(0.09,4600),(0.1,5800),(0.1,5100),(0.11,4700),(0.11,5600),(0.12,4200),(0.12,5900),(0.13,5300),(0.13,4400),(0.14,5700),(0.14,4900),(0.15,5300),(0.15,6100),(0.16,4600),(0.16,5700),(0.17,5100),(0.17,4300),(0.18,5900),(0.18,5300),(0.19,4500),(0.19,5300),(0.2,4800),(0.2,5700),(0.21,5300),(0.22,4300),(0.22,5100),(0.23,5800),(0.24,4800),(0.25,5400),(0.25,4100),(0.26,5000),(0.27,5600),(0.28,4300),(0.29,5100),(0.3,4600),(0.31,5600),(0.32,4900),(0.33,5300),(0.34,4500),(0.35,5800),(0.36,4900),(0.37,5400),(0.38,4500),(0.39,5100),(0.4,4600),(0.41,5200),(0.42,4300),(0.43,5600),(0.44,4800),(0.45,5100),(0.46,4300),(0.47,5400),(0.48,4900),(0.49,4400),(0.5,5100),(0.51,5300),(0.52,4400),(0.53,5000),(0.54,4700),(0.55,5300),(0.56,4100),(0.57,5000),(0.58,4500),(0.59,5400),(0.6,4200),(0.61,4700),(0.62,5200),(0.63,4300),(0.64,5000),(0.65,4500),(0.66,5400),(0.67,4100),(0.68,5100),(0.69,4700),(0.7,4100),(0.72,4900),(0.74,4500),(0.76,5300),(0.78,4300),(0.8,4800),(0.82,4200),(0.84,4600),(0.86,5100),(0.88,4300),(0.9,4900),(0.92,4500),(0.94,4900),(0.96,4200),(0.98,4600),(1.0,4300),(1.02,4700),(1.04,4100),(1.06,4600),(1.08,4400),(1.1,4800),(1.12,4300),(1.14,4700),(1.16,4100),(1.18,4500),(1.2,4300),(1.22,4600),(1.24,4200),(1.26,4700),(1.28,4500),(1.3,4200),(1.32,4500),(1.34,4300),(1.36,4600),(1.38,4400),(1.4,4500),(0.03,3300),(0.06,3000),(0.1,3200),(0.15,3300),(0.25,3600),(0.4,3400),(0.5,3700),
    (0.02,5650),(0.05,5100),(0.08,4700),(0.11,5300),(0.14,4300),(0.17,5500),(0.2,5100),(0.23,4600),(0.26,5500),(0.29,4300),(0.32,5300),(0.35,4900),(0.38,5600),(0.41,4800),(0.44,5400),(0.47,4600),(0.5,5500),(0.53,4600),(0.56,5200),(0.59,4800),(0.62,4500),(0.65,4800),(0.68,4400),(0.71,5000),(0.74,4700),(0.77,4400),(0.8,5100),(0.83,4600),(0.86,4400),(0.89,4800),(0.92,4300),(0.95,4600),(0.98,4400),(1.01,4800),(1.05,4500),(1.09,4700),(1.13,4500),(1.17,4800),(1.21,4400),(1.25,4600),
]

# Regression-line end points
fit1_x = [2.2, 22.2];  fit1_y = [11450, 10800]
fit2_x = [0.0, 4.6];   fit2_y = [11460, 9380]
fit3_x = [2.2, 22.2];  fit3_y = [4925, 4065]
fit4_x = [0.0, 4.6];   fit4_y = [4867, 3148]

x_titles = ["Total Spread", "Initial Assignments Spread", "Total Spread", "Initial Assignments Spread"]
y_titles = ["Total Points", "Total Points", "Exam Points", "Exam Points"]
x_ticks = [[5, 10, 15, 20], [0, 1, 2, 3, 4], [5, 10, 15, 20], [0, 1, 2, 3, 4]]
y_ticks = [[2500, 5000, 7500, 10000, 12500], [2500, 5000, 7500, 10000, 12500],
           [2000, 3000, 4000, 5000, 6000], [2000, 3000, 4000, 5000, 6000]]

# ---------------- figure ----------------
BLUE = "#4C72B0"
W, H = 876, 427
panels = [spread_total_pts + spread_total_core, init_total_pts + init_total_core,
          spread_exam_pts + spread_exam_core, init_exam_pts + init_exam_core]
fits = [(fit1_x, fit1_y), (fit2_x, fit2_y), (fit3_x, fit3_y), (fit4_x, fit4_y)]

fig = go.Figure()
for i, (pts, (fx, fy)) in enumerate(zip(panels, fits)):
    n = "" if i == 0 else str(i + 1)
    xs = [p[0] for p in pts]
    ys = [p[1] for p in pts]
    fig.add_trace(go.Scatter(x=xs, y=ys, mode="markers", xaxis="x" + n, yaxis="y" + n,
                             marker=dict(color=BLUE, size=5.5, opacity=0.8, line=dict(width=0)),
                             showlegend=False, hoverinfo="skip"))
    fig.add_trace(go.Scatter(x=fx, y=fy, mode="lines", xaxis="x" + n, yaxis="y" + n,
                             line=dict(color=BLUE, width=1.6), showlegend=False, hoverinfo="skip"))

xdom_l = [73 / W, 440 / W]
xdom_r = [518 / W, 1.0]
ydom_t = [1 - 171.7 / H, 1 - 5 / H]
ydom_b = [1 - 390.7 / H, 1 - 226 / H]
xdoms = [xdom_l, xdom_r, xdom_l, xdom_r]
ydoms = [ydom_t, ydom_t, ydom_b, ydom_b]
xranges = [[1.22, 23.0], [-0.219, 4.672], [1.22, 23.0], [-0.219, 4.672]]
yranges = [[704, 13884], [704, 13884], [1309, 6551], [1309, 6551]]

FONT = "Liberation Sans, Arial, sans-serif"
layout = dict(width=W, height=H, margin=dict(l=0, r=0, t=0, b=0),
              paper_bgcolor="white", plot_bgcolor="#EAEAF2",
              font=dict(family=FONT, color="#262626"))
for i in range(4):
    n = "" if i == 0 else str(i + 1)
    layout["xaxis" + n] = dict(domain=xdoms[i], range=xranges[i], anchor="y" + n,
                               tickvals=x_ticks[i], tickformat="d",
                               showgrid=True, gridcolor="white", gridwidth=1.1,
                               zeroline=False, showline=False, ticks="",
                               tickfont=dict(size=13, color="#333333"),
                               title=dict(text=x_titles[i], font=dict(size=14.5, color="#262626"), standoff=3))
    layout["yaxis" + n] = dict(domain=ydoms[i], range=yranges[i], anchor="x" + n,
                               tickvals=y_ticks[i], tickformat="d",
                               showgrid=True, gridcolor="white", gridwidth=1.1,
                               zeroline=False, showline=False, ticks="",
                               tickfont=dict(size=13, color="#333333"),
                               title=dict(text=y_titles[i], font=dict(size=14.5, color="#262626"), standoff=8))
fig.update_layout(**layout)
fig.write_html("out.html")
